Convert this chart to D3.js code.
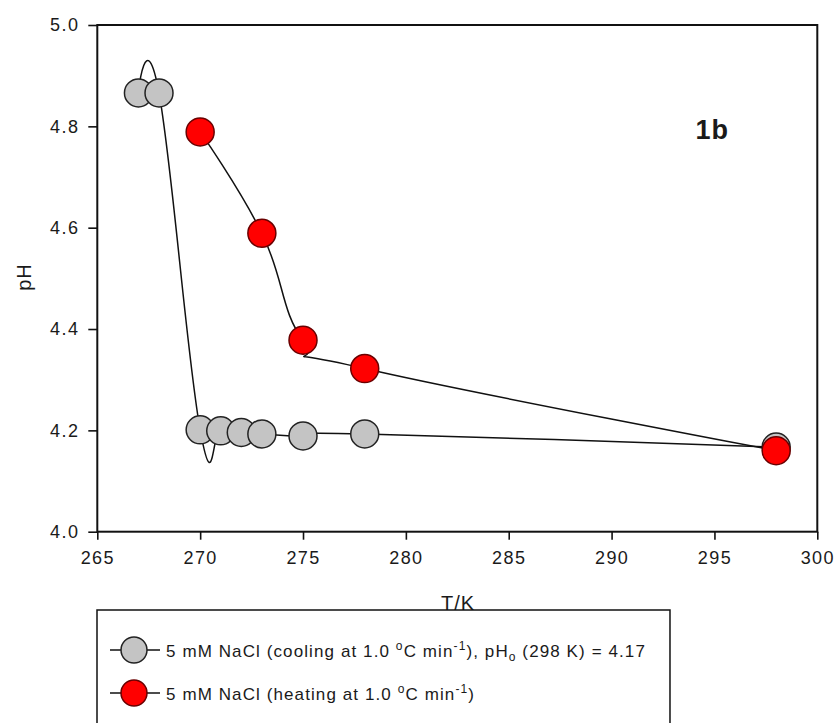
<!DOCTYPE html>
<html>
<head>
<meta charset="utf-8">
<script src="https://cdn.jsdelivr.net/npm/d3@7"></script>
<style>
  html, body { margin: 0; padding: 0; background: #fff; }
  svg { display: block; }
  text { font-family: "Liberation Sans", Arial, sans-serif; fill: #1a1a1a; }
</style>
</head>
<body>
<svg id="chart" width="840" height="723"></svg>
<script>
// ---- data ----
const tCooling  = [267, 268, 270, 271, 272, 273, 275, 278, 298];
const pHCooling = [4.866, 4.866, 4.201, 4.199, 4.196, 4.193, 4.189, 4.193, 4.167];
const tHeating  = [270, 273, 275, 278, 298];
const pHHeating = [4.789, 4.589, 4.378, 4.322, 4.160];
const xTicks = [265, 270, 275, 280, 285, 290, 295, 300];
const yTicks = [4.0, 4.2, 4.4, 4.6, 4.8, 5.0];
const xTitle = "T/K";
const yTitle = "pH";
const panelLabel = "1b";

(function () {
const svg = d3.select("#chart");
const pL = 97.3, pR = 817.3, pT = 25, pB = 531.7;
const x = d3.scaleLinear().domain([265, 300]).range([pL, pR]);
const y = d3.scaleLinear().domain([4.0, 5.0]).range([pB, pT]);

// spline through the points (cardinal spline, as in the original plot software)
const line = d3.line().x(p => x(p[0])).y(p => y(p[1])).curve(d3.curveCardinal.tension(-0.3));

// axes
const gx = svg.append("g").attr("transform", `translate(0,${pB})`)
  .call(d3.axisBottom(x).tickValues(xTicks).tickSize(8).tickPadding(12).tickFormat(d3.format("d")));
const gy = svg.append("g").attr("transform", `translate(${pL},0)`)
  .call(d3.axisLeft(y).tickValues(yTicks).tickSize(9).tickPadding(9).tickFormat(d3.format(".1f")));
[gx, gy].forEach(g => {
  g.select(".domain").remove();
  g.selectAll(".tick line").attr("stroke", "#111").attr("stroke-width", 1.6);
  g.selectAll(".tick text").style("font-size", "18px").attr("fill", "#222")
    .style("letter-spacing", "1.4px")
    .style("font-family", "'Liberation Sans', Arial, sans-serif");
});

// frame
svg.append("rect").attr("x", pL).attr("y", pT)
  .attr("width", pR - pL).attr("height", pB - pT)
  .attr("fill", "none").attr("stroke", "#111").attr("stroke-width", 2);

// series
const cool = tCooling.map((t, i) => [t, pHCooling[i]]);
const heat = tHeating.map((t, i) => [t, pHHeating[i]]);

svg.append("path").attr("d", line(cool))
  .attr("fill", "none").attr("stroke", "#111").attr("stroke-width", 1.5);
svg.append("g").selectAll("circle").data(cool).join("circle")
  .attr("cx", p => x(p[0])).attr("cy", p => y(p[1])).attr("r", 14)
  .attr("fill", "#c4c4c4").attr("stroke", "#222").attr("stroke-width", 1.5);

svg.append("path").attr("d", line(heat))
  .attr("fill", "none").attr("stroke", "#111").attr("stroke-width", 1.5);
svg.append("g").selectAll("circle").data(heat).join("circle")
  .attr("cx", p => x(p[0])).attr("cy", p => y(p[1])).attr("r", 14)
  .attr("fill", "#ff0000").attr("stroke", "#6a0000").attr("stroke-width", 1.5);

// panel label
svg.append("text").attr("x", 729).attr("y", 139).attr("text-anchor", "end")
  .style("font-size", "27px").style("font-weight", "bold").style("letter-spacing", "1px")
  .text(panelLabel);

// axis titles
svg.append("text").attr("transform", "translate(31,277) rotate(-90)")
  .attr("text-anchor", "middle").style("font-size", "20px").style("letter-spacing", "1px")
  .text(yTitle);
svg.append("text").attr("x", 458).attr("y", 610)
  .attr("text-anchor", "middle").style("font-size", "20px").style("letter-spacing", "1px")
  .text(xTitle);

// legend
const lg = svg.append("g");
const box = lg.append("rect").attr("x", 97).attr("y", 610).attr("height", 140)
  .attr("fill", "none").attr("stroke", "#111").attr("stroke-width", 1.5);

const legendItems = [
  { fill: "#c4c4c4", stroke: "#222", cy: 650, base: 657,
    parts: [["5 mM NaCl (cooling at 1.0 "], ["o", "sup"], ["C  min"], ["-1", "sup"], ["), pH"], ["o", "sub"], [" (298 K) = 4.17"]] },
  { fill: "#ff0000", stroke: "#6a0000", cy: 693, base: 700,
    parts: [["5 mM NaCl (heating at 1.0 "], ["o", "sup"], ["C  min"], ["-1", "sup"], [")"]] }
];
let maxRight = 0;
legendItems.forEach(it => {
  lg.append("line").attr("x1", 110).attr("x2", 160).attr("y1", it.cy).attr("y2", it.cy)
    .attr("stroke", "#111").attr("stroke-width", 1.5);
  lg.append("circle").attr("cx", 134).attr("cy", it.cy).attr("r", 13)
    .attr("fill", it.fill).attr("stroke", it.stroke).attr("stroke-width", 1.5);
  const t = lg.append("text").attr("x", 166).attr("y", it.base)
    .style("font-size", "17px").style("letter-spacing", "1.1px");
  let shift = 0;
  it.parts.forEach(([s, kind]) => {
    const ts = t.append("tspan").text(s);
    const target = kind === "sup" ? -7 : kind === "sub" ? 4 : 0;
    ts.attr("dy", target - shift);
    shift = target;
    if (kind) ts.style("font-size", "12px");
  });
  const bb = t.node().getBBox();
  maxRight = Math.max(maxRight, bb.x + bb.width);
});
box.attr("width", maxRight + 24 - 97);
})();
</script>
</body>
</html>
